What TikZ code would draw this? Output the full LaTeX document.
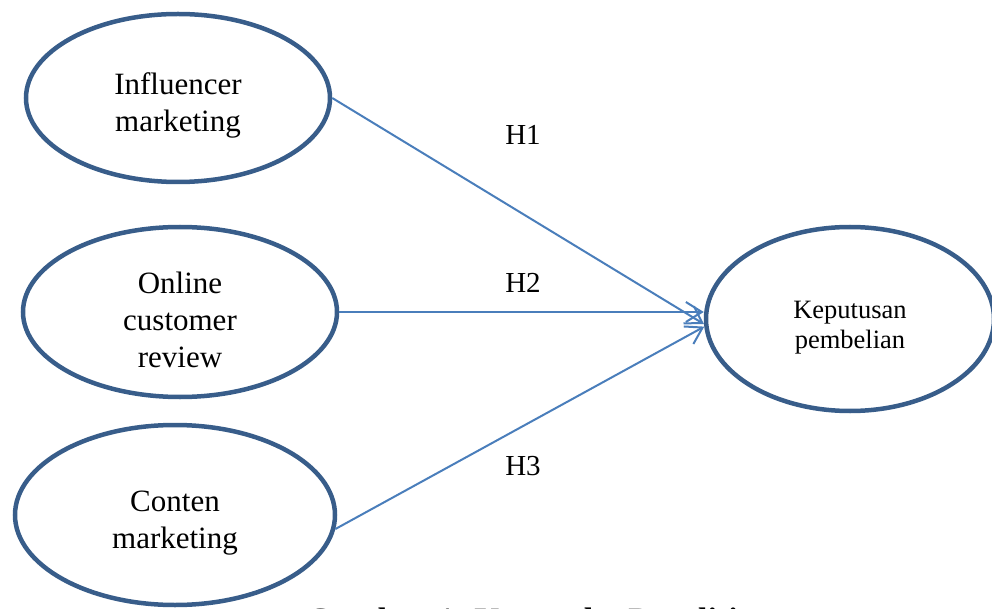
\documentclass[tikz,border=0pt]{standalone}
\usepackage{fontspec}
\setmainfont{Liberation Serif}
\usetikzlibrary{arrows.meta,shapes.geometric}
\definecolor{ringblue}{RGB}{56,93,138}
\definecolor{lineblue}{RGB}{74,126,187}
\newcommand{\tlift}[1]{\rule{0pt}{#1}}
\tikzset{%
  var/.style={ellipse,draw=ringblue,line width=4.5pt,inner sep=0pt,align=center,font=\fontsize{31}{37}\selectfont},
  hyp/.style={draw=lineblue,line width=2pt,-{Straight Barb[length=16pt,width=20pt]}},
  hlabel/.style={font=\fontsize{29}{34}\selectfont},
}

\begin{document}
\begin{tikzpicture}[x=1pt,y=-1pt]
      \useasboundingbox (0,0) rectangle (992,609);
      \node[var,minimum width=304pt,minimum height=168pt] (infl) at (178,98) {\tlift{37pt}Influencer\\marketing};
      \node[var,minimum width=314pt,minimum height=170pt] (ocr) at (180,312) {\tlift{37pt}Online\\customer\\review};
      \node[var,minimum width=320pt,minimum height=180pt] (cont) at (175,515) {\tlift{37pt}Conten\\marketing};
      \node[var,minimum width=288pt,minimum height=184pt,font=\fontsize{26.5}{30}\selectfont] (kep) at (850,319) {\tlift{35pt}Keputusan\\pembelian};

      \draw[hyp] (infl.east) -- (kep.182);
      \draw[hyp] (ocr.east) -- (ocr.east -| kep.west);
      \draw[hyp] (cont.355) -- (kep.183);

      \node[hlabel] (h1) at (523,135) {H1};
      \node[hlabel] (h2) at (523,283) {H2};
      \node[hlabel] (h3) at (523,466) {H3};

      \node[font=\bfseries\fontsize{34}{40}\selectfont] (cap) at (540,623) {Gambar 1. Kerangka Penelitian};
    \end{tikzpicture}
\end{document}
